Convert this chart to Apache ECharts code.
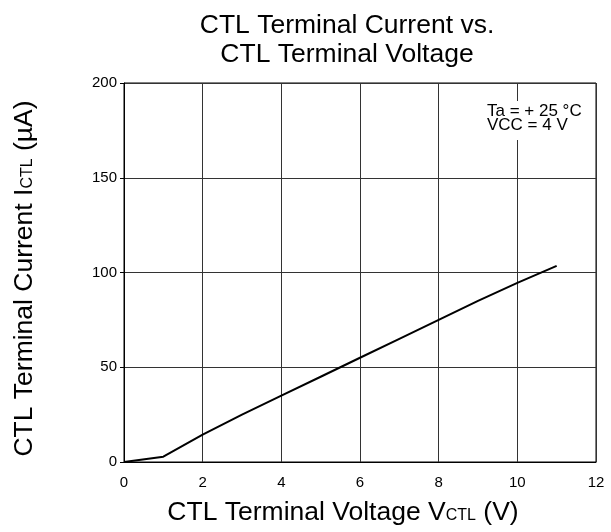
<!DOCTYPE html>
<html><head><meta charset="utf-8">
<script src="https://cdn.jsdelivr.net/npm/echarts@6/dist/echarts.min.js"></script>
<style>html,body{margin:0;padding:0;background:#fff}#c{width:611px;height:532px}</style>
</head><body><div id="c"></div>
<script>
const voltage = [0, 1, 2, 3, 4, 5, 6, 7, 8, 9, 10, 11];
const current = [0, 2.8, 14.5, 25, 35, 45, 55, 65, 75, 85, 94.5, 103.5];
const xTicks = [0, 2, 4, 6, 8, 10, 12];
const yTicks = [0, 50, 100, 150, 200];

const font = '"Liberation Sans", Arial, sans-serif';
const chart = echarts.init(document.getElementById('c'), null, {renderer: 'canvas'});
chart.setOption({
  animation: false,
  backgroundColor: '#fff',
  textStyle: {fontFamily: font},
  title: {
    text: 'CTL Terminal Current vs.\nCTL Terminal Voltage',
    left: 342, top: 6, textAlign: 'center',
    textStyle: {fontFamily: font, fontSize: 26.5, fontWeight: 'normal', color: '#000', lineHeight: 29}
  },
  grid: {left: 124, right: 15, top: 83, bottom: 70, show: true, borderColor: '#000', borderWidth: 1},
  xAxis: {
    type: 'value', min: 0, max: 12, interval: 2,
    axisLine: {show: true, lineStyle: {color: '#000'}},
    axisTick: {show: false},
    axisLabel: {color: '#000', fontSize: 15, fontFamily: font, margin: 13},
    splitLine: {show: true, lineStyle: {color: '#333', width: 1}},
    name: 'CTL Terminal Voltage V{s|CTL} (V)',
    nameLocation: 'middle', nameGap: 37,
    nameTextStyle: {color: '#000', fontSize: 26.5, fontFamily: font, padding: [0, 34, 0, 0],
      rich: {s: {fontSize: 16, fontFamily: font, color: '#000', padding: [6, 0, 0, 0]}}}
  },
  yAxis: {
    type: 'value', min: 0, max: 200, interval: 50,
    axisLine: {show: true, lineStyle: {color: '#000'}},
    axisTick: {show: true, length: 4, inside: false, lineStyle: {color: '#000'}},
    axisLabel: {color: '#000', fontSize: 15, fontFamily: font, margin: 7},
    splitLine: {show: true, lineStyle: {color: '#333', width: 1}},
    name: 'CTL Terminal Current I{s|CTL} (µA)',
    nameLocation: 'middle', nameGap: 86,
    nameTextStyle: {color: '#000', fontSize: 26.5, fontFamily: font, padding: [0, 12, 0, 0],
      rich: {s: {fontSize: 16, fontFamily: font, color: '#000', padding: [6, 0, 0, 0]}}}
  },
  series: [{
    type: 'line',
    data: voltage.map((v, i) => [v, current[i]]),
    showSymbol: false,
    lineStyle: {color: '#000', width: 2},
    z: 5
  }],
  graphic: [{
    type: 'text', left: 485, top: 101, z: 10,
    style: {text: 'Ta = + 25 °C\nVCC = 4 V', fontSize: 17, fontFamily: font, fill: '#000',
      lineHeight: 14, backgroundColor: '#fff', padding: [3, 2, 8, 2]}
  }]
});
</script></body></html>
